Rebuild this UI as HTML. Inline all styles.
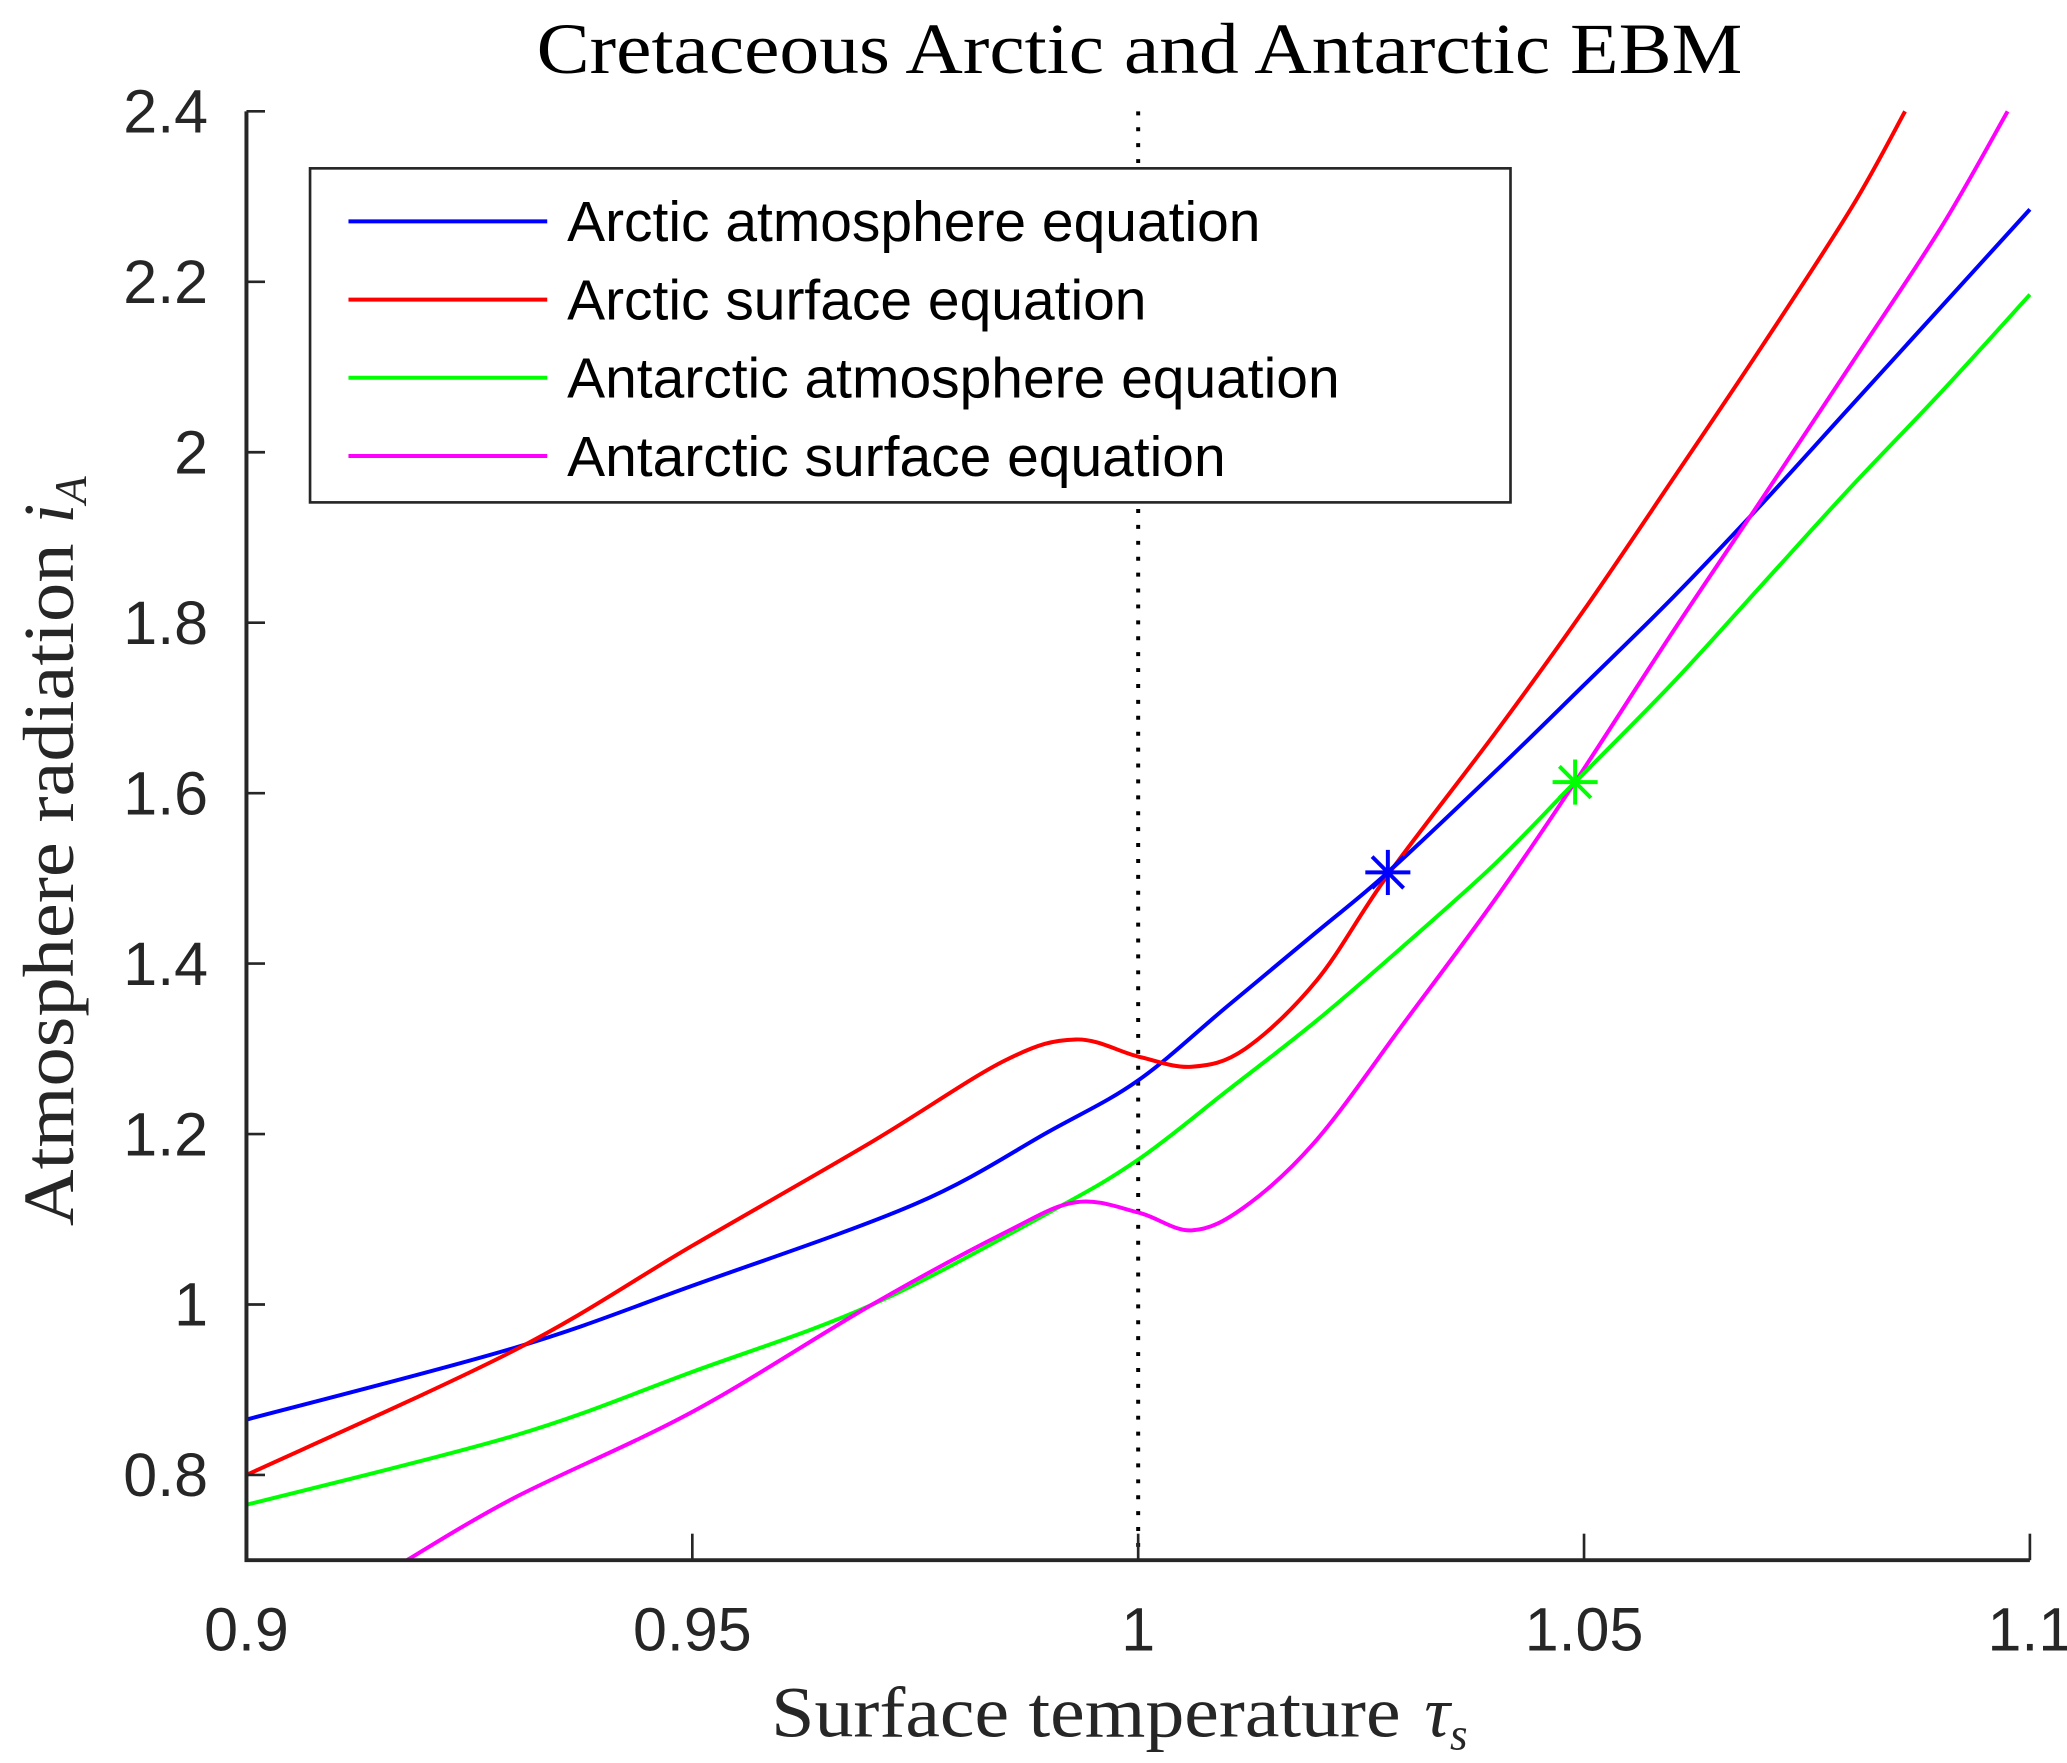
<!DOCTYPE html>
<html><head><meta charset="utf-8"><style>
html,body{margin:0;padding:0;background:#fff;}
svg{display:block;}
text{fill:#262626;}
</style></head><body>
<svg id="chart" width="2067" height="1763" viewBox="0 0 1560 1330" preserveAspectRatio="none" xmlns="http://www.w3.org/2000/svg">
<rect x="0" y="0" width="1560" height="1330" fill="#fff"/>
<text x="405" y="55" textLength="910" lengthAdjust="spacingAndGlyphs" font-family="Liberation Serif, serif" font-size="54" style="fill:#000">Cretaceous Arctic and Antarctic EBM</text>
<g id="plot"></g>
<text x="582" y="1310" font-family="Liberation Serif, serif" font-size="54"><tspan textLength="475" lengthAdjust="spacingAndGlyphs">Surface temperature</tspan><tspan x="1075" font-style="italic">τ</tspan><tspan font-style="italic" font-size="34" dy="10">s</tspan></text>
<text transform="translate(55,925) rotate(-90)" font-family="Liberation Serif, serif" font-size="54"><tspan textLength="515" lengthAdjust="spacingAndGlyphs">Atmosphere radiation</tspan><tspan x="530" font-style="italic">i</tspan><tspan font-style="italic" font-size="34" dy="10">A</tspan></text>
<g>
<rect x="234" y="127" width="906" height="252" fill="#fff" stroke="#262626" stroke-width="2"/>
<line x1="263" y1="167" x2="413" y2="167" stroke="#0000ff" stroke-width="3"/><text x="428" y="182" font-family="Liberation Sans, sans-serif" font-size="43" style="fill:#000">Arctic atmosphere equation</text>
<line x1="263" y1="226" x2="413" y2="226" stroke="#ff0000" stroke-width="3"/><text x="428" y="241" font-family="Liberation Sans, sans-serif" font-size="43" style="fill:#000">Arctic surface equation</text>
<line x1="263" y1="285" x2="413" y2="285" stroke="#00ff00" stroke-width="3"/><text x="428" y="300" font-family="Liberation Sans, sans-serif" font-size="43" style="fill:#000">Antarctic atmosphere equation</text>
<line x1="263" y1="344" x2="413" y2="344" stroke="#ff00ff" stroke-width="3"/><text x="428" y="359" font-family="Liberation Sans, sans-serif" font-size="43" style="fill:#000">Antarctic surface equation</text>
</g>
</svg>
<script>
const xTicks=[0.9,0.95,1,1.05,1.1];
const xTickLabels=["0.9","0.95","1","1.05","1.1"];
const yTicks=[0.8,1,1.2,1.4,1.6,1.8,2,2.2,2.4];
const yTickLabels=["0.8","1","1.2","1.4","1.6","1.8","2","2.2","2.4"];
const blueX=[0.9,0.93,0.95,0.975,0.99,1.0,1.01,1.02,1.028,1.04,1.05,1.06,1.07,1.08,1.09,1.1];
const blueY=[0.865,0.949,1.022,1.118,1.203,1.263,1.35,1.437,1.507,1.625,1.727,1.83,1.94,2.055,2.17,2.285];
const redX=[0.9,0.93,0.95,0.97,0.985,0.993,1.0,1.006,1.012,1.02,1.028,1.04,1.05,1.06,1.07,1.08,1.086];
const redY=[0.80,0.946,1.069,1.19,1.286,1.311,1.291,1.279,1.30,1.38,1.504,1.67,1.815,1.969,2.125,2.287,2.40];
const greenX=[0.9,0.93,0.95,0.97,0.99,1.0,1.01,1.02,1.03,1.04,1.049,1.06,1.07,1.08,1.09,1.1];
const greenY=[0.765,0.846,0.921,0.999,1.108,1.17,1.251,1.333,1.423,1.517,1.613,1.73,1.845,1.96,2.07,2.185];
const magX=[0.918,0.93,0.95,0.97,0.985,0.993,1.0,1.006,1.012,1.02,1.03,1.04,1.049,1.06,1.07,1.08,1.09,1.0975];
const magY=[0.70,0.773,0.874,0.999,1.084,1.12,1.108,1.087,1.115,1.193,1.333,1.475,1.613,1.79,1.946,2.104,2.263,2.40];
const eqX=[1.028,1.049];
const eqY=[1.507,1.613];
const eqColors=["#0000ff","#00ff00"];

const X0=186,X1=1532,Y0=1177,Y1=84,xmin=0.9,xmax=1.1,ymin=0.7,ymax=2.4;
const sx=v=>X0+(v-xmin)/(xmax-xmin)*(X1-X0);
const sy=v=>Y0-(v-ymin)/(ymax-ymin)*(Y0-Y1);
const NS="http://www.w3.org/2000/svg";
const plot=document.getElementById('plot');
function mk(tag,attrs){const e=document.createElementNS(NS,tag);for(const k in attrs)e.setAttribute(k,attrs[k]);plot.appendChild(e);return e;}
function smooth(xs,ys){
  const p=xs.map((x,i)=>[sx(x),sy(ys[i])]);
  let d="M"+p[0][0]+","+p[0][1];
  for(let i=0;i<p.length-1;i++){
    const a=p[i-1]||p[i],b=p[i],c=p[i+1],e=p[i+2]||c;
    const c1=[b[0]+(c[0]-a[0])/6,b[1]+(c[1]-a[1])/6];
    const c2=[c[0]-(e[0]-b[0])/6,c[1]-(e[1]-b[1])/6];
    d+=" C"+c1+" "+c2+" "+c;
  }
  return d;
}
const dl=mk('line',{x1:sx(1),x2:sx(1),y1:Y1,y2:Y0,stroke:'#000','stroke-width':3,'stroke-dasharray':'3 9'});


const series=[[blueX,blueY,'#0000ff','arctic-atmosphere-line'],[redX,redY,'#ff0000','arctic-surface-line'],[greenX,greenY,'#00ff00','antarctic-atmosphere-line'],[magX,magY,'#ff00ff','antarctic-surface-line']];
series.forEach(s=>{
  const p=mk('path',{d:smooth(s[0],s[1]),fill:'none',stroke:s[2],'stroke-width':3});
  
  
});
eqX.forEach((x,i)=>{
  const cx=sx(x),cy=sy(eqY[i]),r=17;
  const g=document.createElementNS(NS,'g');plot.appendChild(g);
  
  
  [[r,0],[0,r],[r*0.7,r*0.7],[r*0.7,-r*0.7]].forEach(v=>{
    const l=document.createElementNS(NS,'line');
    l.setAttribute('x1',cx-v[0]);l.setAttribute('y1',cy-v[1]);l.setAttribute('x2',cx+v[0]);l.setAttribute('y2',cy+v[1]);
    l.setAttribute('stroke',eqColors[i]);l.setAttribute('stroke-width',3);g.appendChild(l);
  });
});
const ax=mk('path',{d:`M${X0},${Y1} L${X0},${Y0} L${X1},${Y0}`,fill:'none',stroke:'#262626','stroke-width':3});


xTicks.forEach((t,i)=>{
  mk('line',{x1:sx(t),x2:sx(t),y1:Y0,y2:Y0-20,stroke:'#262626','stroke-width':2});
  const tx=mk('text',{x:sx(t),y:1245,'text-anchor':'middle','font-family':'Liberation Sans, sans-serif','font-size':46});
  tx.textContent=xTickLabels[i];
  
  
});
yTicks.forEach((t,i)=>{
  mk('line',{x1:X0,x2:X0+14,y1:sy(t),y2:sy(t),stroke:'#262626','stroke-width':2});
  const tx=mk('text',{x:157,y:sy(t)+16,'text-anchor':'end','font-family':'Liberation Sans, sans-serif','font-size':46});
  tx.textContent=yTickLabels[i];
  
  
});
</script>
</body></html>
